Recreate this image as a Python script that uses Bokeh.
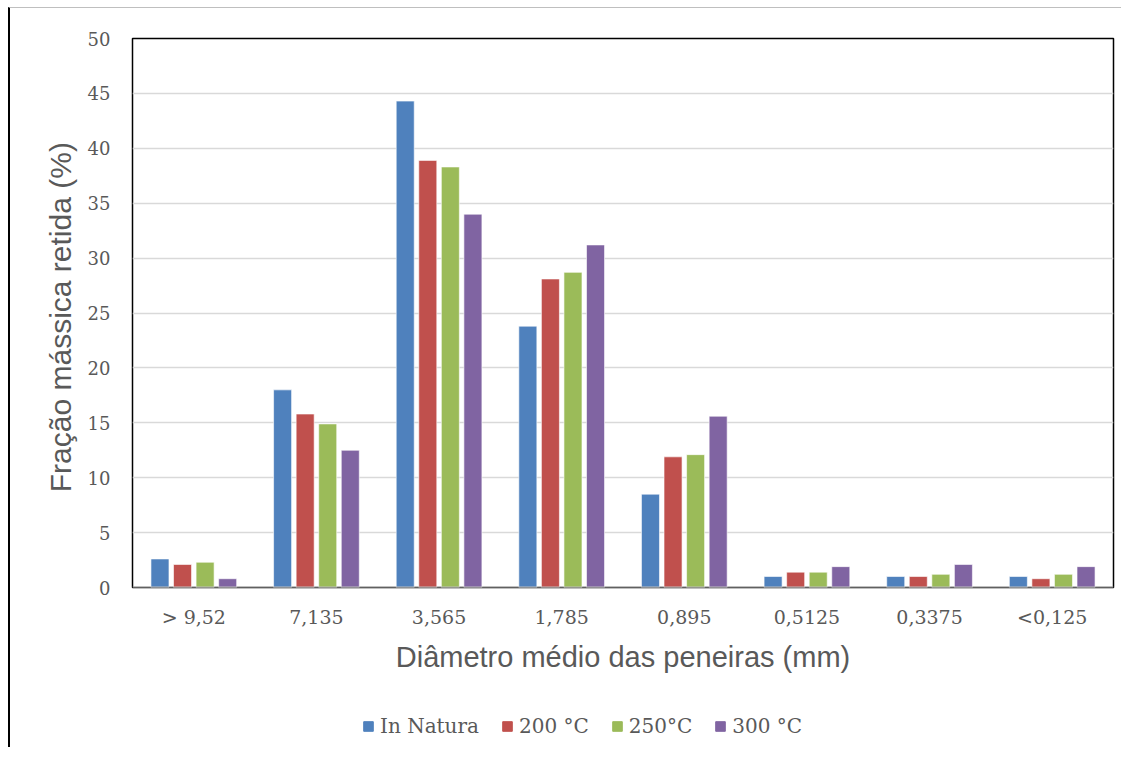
from bokeh.plotting import figure
from bokeh.models import ColumnDataSource, Legend, LegendItem, Span, FixedTicker
from bokeh.layouts import column
from bokeh.transform import dodge
from bokeh.embed import file_html
from bokeh.resources import INLINE

categories = ["> 9,52", "7,135", "3,565", "1,785", "0,895", "0,5125", "0,3375", "<0,125"]
in_natura = [2.6, 18.0, 44.3, 23.8, 8.5, 1.0, 1.0, 1.0]
t200 = [2.1, 15.8, 38.9, 28.1, 11.9, 1.4, 1.0, 0.8]
t250 = [2.3, 14.9, 38.3, 28.7, 12.1, 1.4, 1.2, 1.2]
t300 = [0.8, 12.5, 34.0, 31.2, 15.6, 1.9, 2.1, 1.9]
series_labels = ["In Natura", "200 °C", "250°C", "300 °C"]
y_ticks = [0, 5, 10, 15, 20, 25, 30, 35, 40, 45, 50]

colors = ["#4F81BD", "#C0504D", "#9BBB59", "#8064A2"]
text_color = "#595959"
keys = ["s0", "s1", "s2", "s3"]

source = ColumnDataSource(dict(cat=categories, s0=in_natura, s1=t200, s2=t250, s3=t300))

p = figure(x_range=categories, y_range=(0, 50), width=1111, height=679,
           output_backend="svg", toolbar_location=None,
           min_border_left=122, min_border_top=30, min_border_right=8, min_border_bottom=100)

stride = 0.184
bw = 0.147
for i, key in enumerate(keys):
    p.vbar(x=dodge("cat", (i - 1.5) * stride, range=p.x_range), top=key, width=bw,
           source=source, fill_color=colors[i], line_color="white", line_alpha=0.6,
           line_width=1)

p.outline_line_color = "black"
p.outline_line_width = 1.5

p.xgrid.grid_line_color = None
p.ygrid.grid_line_color = "#D9D9D9"
p.ygrid.grid_line_width = 1.5

p.yaxis.ticker = FixedTicker(ticks=y_ticks)
p.yaxis.axis_line_color = None
p.yaxis.major_tick_line_color = None
p.yaxis.minor_tick_line_color = None
p.yaxis.major_label_text_font = "DejaVu Serif"
p.yaxis.major_label_text_font_size = "18px"
p.yaxis.major_label_text_color = text_color
p.yaxis.major_label_standoff = 16
p.yaxis.axis_label = "Fração mássica retida  (%)"
p.yaxis.axis_label_text_font = "Liberation Sans"
p.yaxis.axis_label_text_font_style = "normal"
p.yaxis.axis_label_text_font_size = "30px"
p.yaxis.axis_label_text_color = text_color
p.yaxis.axis_label_standoff = 8

p.xaxis.axis_line_color = None
p.xaxis.major_tick_line_color = None
p.xaxis.minor_tick_line_color = None
p.xaxis.major_label_text_font = "DejaVu Serif"
p.xaxis.major_label_text_font_size = "19px"
p.xaxis.major_label_text_color = text_color
p.xaxis.major_label_standoff = 12
p.xaxis.axis_label = "Diâmetro médio das peneiras (mm)"
p.xaxis.axis_label_text_font = "Liberation Sans"
p.xaxis.axis_label_text_font_style = "normal"
p.xaxis.axis_label_text_font_size = "29px"
p.xaxis.axis_label_text_color = text_color
p.xaxis.axis_label_standoff = 10

base = Span(location=0, dimension="width", line_color="#BFBFBF", line_width=2, level="overlay")
p.add_layout(base)

# legend panel (proxy renderers kept outside the visible range)
lg = figure(width=1111, height=60, x_range=(0, 1), y_range=(0, 1),
            output_backend="svg", toolbar_location=None,
            min_border_left=0, min_border_right=0, min_border_top=0, min_border_bottom=0)
lg.axis.visible = False
lg.grid.visible = False
lg.outline_line_color = None
proxy = ColumnDataSource(dict(x=[-5], top=[-5]))
items = []
for i in range(4):
    r = lg.vbar(x="x", top="top", source=proxy, width=0.1,
                fill_color=colors[i], line_color=colors[i])
    items.append(LegendItem(label=series_labels[i], renderers=[r]))

legend = Legend(items=items, orientation="horizontal", location=(230, 9),
                label_text_font="DejaVu Serif", label_text_font_size="20px",
                label_text_color=text_color, glyph_width=12, glyph_height=12,
                label_standoff=6, spacing=22, border_line_color=None,
                background_fill_alpha=0, margin=0, padding=4)
lg.add_layout(legend, "center")

layout = column(p, lg, spacing=0,
                styles={"margin-left": "8px", "margin-top": "7px",
                        "border-left": "2px solid black", "border-top": "1px solid #BFBFBF"})

open("out.html", "w").write(file_html(layout, INLINE))
